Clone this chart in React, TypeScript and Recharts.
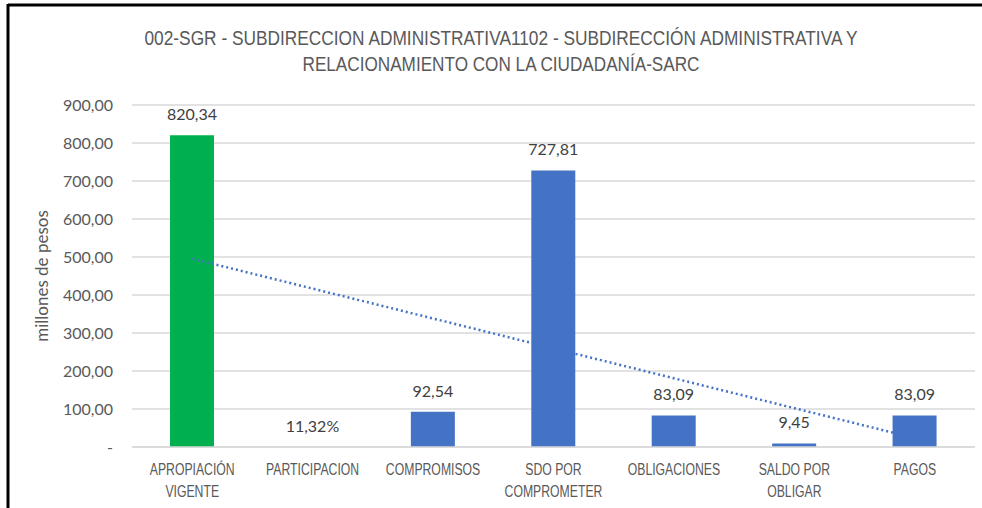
import React from 'react';
import { ComposedChart, Bar, Line, XAxis, YAxis, CartesianGrid, LabelList, Cell } from 'recharts';

const categories = [
  'APROPIACIÓN\nVIGENTE',
  'PARTICIPACION',
  'COMPROMISOS',
  'SDO POR\nCOMPROMETER',
  'OBLIGACIONES',
  'SALDO POR\nOBLIGAR',
  'PAGOS',
];
const values = [820.34, 0.1132, 92.54, 727.81, 83.09, 9.45, 83.09];
const isPercent = [false, true, false, false, false, false, false];
const barColors = ['#00B050', '#4472C4', '#4472C4', '#4472C4', '#4472C4', '#4472C4', '#4472C4'];
const yTicks = [0, 100, 200, 300, 400, 500, 600, 700, 800, 900];

// linear trendline (least squares over category index), like Excel's
const n = values.length;
const meanX = (n + 1) / 2;
const meanY = values.reduce((a, b) => a + b, 0) / n;
let sxy = 0;
let sxx = 0;
values.forEach((v, i) => {
  sxy += (i + 1 - meanX) * (v - meanY);
  sxx += (i + 1 - meanX) * (i + 1 - meanX);
});
const slope = sxy / sxx;

const data = categories.map((name, i) => ({
  name,
  value: values[i],
  trend: meanY + slope * (i + 1 - meanX),
}));

const NARROW = "'Liberation Sans Narrow', 'Arial Narrow', 'Liberation Sans', Arial, sans-serif";
const BODY = "Lato, 'Open Sans', sans-serif";

const fmt = (v: number, pct: boolean) =>
  pct ? (v * 100).toFixed(2).replace('.', ',') + '%' : v.toFixed(2).replace('.', ',');

// the category labels in the original are strongly condensed
const CategoryTick = (props: any) => {
  const { x, y, payload } = props;
  const lines = String(payload.value).split('\n');
  return (
    <g transform={`translate(${x} ${y}) scale(0.72 1)`}>
      <text x={0} y={0} textAnchor="middle" fill="#595959" fontFamily={NARROW} fontSize={17}>
        {lines.map((l, i) => (
          <tspan key={i} x={0} y={28 + i * 22}>
            {l}
          </tspan>
        ))}
      </text>
    </g>
  );
};

const ValueLabel = (props: any) => {
  const { x, y, width, index } = props;
  return (
    <text
      x={x + width / 2}
      y={y - 15}
      textAnchor="middle"
      fill="#404040"
      fontFamily={BODY}
      fontSize={16}
    >
      {fmt(values[index], isPercent[index])}
    </text>
  );
};

const App: React.FC = () => {
  return (
    <div style={{ position: 'absolute', left: 0, top: 0, width: 982, height: 508, background: '#fff' }}>
      <ComposedChart
        width={982}
        height={508}
        data={data}
        margin={{ top: 105, right: 7, bottom: 0, left: 0 }}
      >
        <CartesianGrid vertical={false} stroke="#D9D9D9" strokeWidth={1.5} />
        <XAxis
          dataKey="name"
          height={61}
          axisLine={{ stroke: '#D9D9D9', strokeWidth: 1.5 }}
          tickLine={false}
          tickSize={0}
          tickMargin={0}
          interval={0}
          tick={<CategoryTick />}
        />
        <YAxis
          width={132}
          domain={[0, 900]}
          ticks={yTicks}
          axisLine={false}
          tickLine={false}
          tickSize={0}
          tickMargin={19}
          tick={{ fill: '#595959', fontFamily: BODY, fontSize: 16 }}
          tickFormatter={(v: number) => (v === 0 ? '-' : v.toFixed(2).replace('.', ','))}
        />
        <Bar dataKey="value" barSize={44} isAnimationActive={false}>
          {data.map((_, i) => (
            <Cell key={i} fill={barColors[i]} />
          ))}
          <LabelList dataKey="value" content={<ValueLabel />} />
        </Bar>
        <Line
          dataKey="trend"
          type="linear"
          stroke="#4472C4"
          strokeWidth={2.5}
          strokeDasharray="2 3"
          dot={false}
          activeDot={false}
          isAnimationActive={false}
        />
      </ComposedChart>
      <svg
        width={982}
        height={508}
        style={{ position: 'absolute', left: 0, top: 0, pointerEvents: 'none' }}
      >
        <line x1={8} y1={5} x2={982} y2={5} stroke="#000" strokeWidth={3} />
        <line x1={8} y1={4} x2={8} y2={508} stroke="#000" strokeWidth={3} />
        <text
          x={501}
          y={45}
          textAnchor="middle"
          fill="#595959"
          fontFamily={NARROW}
          fontSize={20}
          textLength={713}
          lengthAdjust="spacingAndGlyphs"
        >
          002-SGR - SUBDIRECCION ADMINISTRATIVA1102 - SUBDIRECCIÓN ADMINISTRATIVA Y
        </text>
        <text
          x={501}
          y={71}
          textAnchor="middle"
          fill="#595959"
          fontFamily={NARROW}
          fontSize={20}
          textLength={397}
          lengthAdjust="spacingAndGlyphs"
        >
          RELACIONAMIENTO CON LA CIUDADANÍA-SARC
        </text>
        <text
          x={0}
          y={0}
          transform="translate(48 276) rotate(-90)"
          textAnchor="middle"
          fill="#595959"
          fontFamily={BODY}
          fontSize={17}
        >
          millones de pesos
        </text>
      </svg>
    </div>
  );
};

export default App;
